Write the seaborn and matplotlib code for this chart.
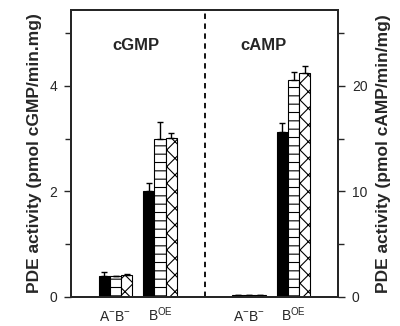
import matplotlib
matplotlib.use("Agg")
import matplotlib.pyplot as plt
import seaborn as sns
import pandas as pd
import numpy as np

# ---- data ----
groups = ["A-B- (cGMP)", "BOE (cGMP)", "gap", "A-B- (cAMP)", "BOE (cAMP)"]
group_labels = [r"A$^{-}$B$^{-}$", r"B$^{\mathrm{OE}}$", "", r"A$^{-}$B$^{-}$", r"B$^{\mathrm{OE}}$"]
conditions = ["solid", "horizontal", "cross"]

cgmp_groups = ["A-B- (cGMP)", "BOE (cGMP)"]
cgmp_solid = [0.40, 2.01]
cgmp_horiz = [0.39, 2.99]
cgmp_cross = [0.42, 3.01]
cgmp_solid_err = [0.07, 0.15]
cgmp_horiz_err = [0.01, 0.32]
cgmp_cross_err = [0.02, 0.09]

camp_groups = ["A-B- (cAMP)", "BOE (cAMP)"]
camp_solid = [0.20, 15.6]
camp_horiz = [0.15, 20.6]
camp_cross = [0.15, 21.2]
camp_solid_err = [0.0, 0.9]
camp_horiz_err = [0.0, 0.75]
camp_cross_err = [0.0, 0.7]

left_ylabel = "PDE activity (pmol cGMP/min.mg)"
right_ylabel = "PDE activity (pmol cAMP/min/mg)"

def make_df(gs, s, h, c, se, he, ce):
    rows = []
    for i, g in enumerate(gs):
        rows.append((g, "solid", s[i], se[i]))
        rows.append((g, "horizontal", h[i], he[i]))
        rows.append((g, "cross", c[i], ce[i]))
    return pd.DataFrame(rows, columns=["group", "cond", "value", "err"])

df_g = make_df(cgmp_groups, cgmp_solid, cgmp_horiz, cgmp_cross,
               cgmp_solid_err, cgmp_horiz_err, cgmp_cross_err)
df_a = make_df(camp_groups, camp_solid, camp_horiz, camp_cross,
               camp_solid_err, camp_horiz_err, camp_cross_err)

# ---- style ----
sns.set_style("ticks")
plt.rcParams["font.family"] = ["Liberation Sans", "DejaVu Sans"]
plt.rcParams["hatch.linewidth"] = 0.8
plt.rcParams["hatch.color"] = "black"
plt.rcParams["mathtext.fontset"] = "custom"
plt.rcParams["mathtext.rm"] = "Liberation Sans"
plt.rcParams["mathtext.it"] = "Liberation Sans"
plt.rcParams["mathtext.bf"] = "Liberation Sans:bold"

fig = plt.figure(figsize=(4.0, 3.26), dpi=100)
ax = fig.add_axes([71/400, 29/326, 267/400, 287/326])
ax2 = ax.twinx()

palette = {"solid": "black", "horizontal": "white", "cross": "white"}
hatches = {"solid": "", "horizontal": "--", "cross": "xx"}

def draw(axis, df):
    sns.barplot(data=df, x="group", y="value", hue="cond", order=groups,
                hue_order=conditions, palette=palette, edgecolor="black",
                linewidth=0.8, width=0.75, errorbar=None, legend=False,
                saturation=1, ax=axis)
    for cont, cond in zip(axis.containers, conditions):
        sub = df[df["cond"] == cond].set_index("group")
        xs, ys, es = [], [], []
        for patch in cont.patches:
            patch.set_hatch(hatches[cond])
        present = [g for g in groups if g in sub.index]
        for patch, g in zip(cont.patches, present):
            xs.append(patch.get_x() + patch.get_width() / 2)
            ys.append(sub.loc[g, "value"])
            es.append(sub.loc[g, "err"])
        es = np.array(es)
        axis.errorbar(xs, ys, yerr=[np.zeros_like(es), es], fmt="none",
                      ecolor="black", elinewidth=1.0, capsize=2.5, capthick=1.0)

draw(ax, df_g)
draw(ax2, df_a)

ax.set_ylim(0, 5.44)
ax2.set_ylim(0, 27.2)
ax.set_xlim(-1, 5)
ax2.set_xlim(-1, 5)

ax.axvline(groups.index("gap"), color="black", linestyle=(0, (3, 2.5)), linewidth=1.3)

ax.set_yticks([0, 2, 4])
ax.set_yticks([1, 3, 5], minor=True)
ax2.set_yticks([0, 10, 20])
ax2.set_yticks([5, 15, 25], minor=True)
for a in (ax, ax2):
    a.tick_params(axis="y", which="major", length=5, width=1.0, labelsize=10, pad=5)
    a.tick_params(axis="y", which="minor", length=4, width=1.0)
    a.set_xlabel("")
    for sp in a.spines.values():
        sp.set_visible(True)
        sp.set_linewidth(1.4)

ax.set_xticks(range(len(groups)))
ax.set_xticklabels(group_labels, fontsize=10, va="baseline")
ax.tick_params(axis="x", length=0, pad=17.5)
ax2.tick_params(axis="x", length=0, labelbottom=False)

ax.set_ylabel(left_ylabel, fontsize=12.5, fontweight="bold", labelpad=5)
ax2.set_ylabel(right_ylabel, fontsize=12.5, fontweight="bold", rotation=90, labelpad=6)

ax.text(0.47, 0.878, "cGMP", transform=ax.get_xaxis_transform(), ha="center",
        va="center", fontsize=12, fontweight="bold")
ax.text(3.33, 0.878, "cAMP", transform=ax.get_xaxis_transform(), ha="center",
        va="center", fontsize=12, fontweight="bold")

fig.savefig("out.png", dpi=100)
